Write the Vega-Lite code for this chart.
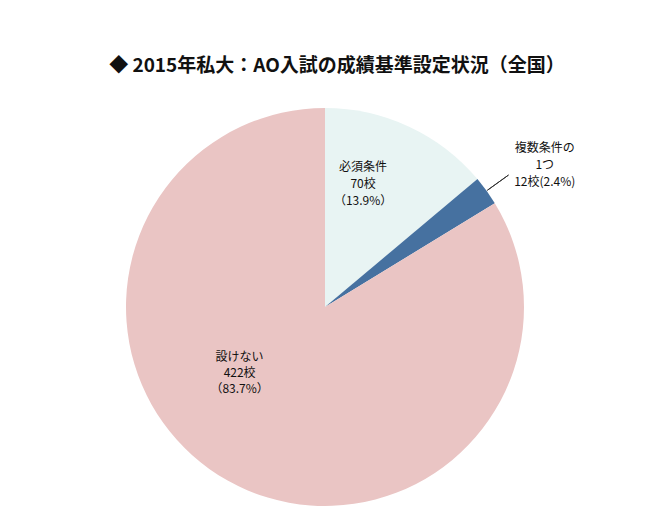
{
  "$schema": "https://vega.github.io/schema/vega-lite/v6.json",
  "width": 650,
  "height": 398,
  "autosize": "none",
  "padding": {"top": 108, "left": 0, "right": 0, "bottom": 24},
  "background": "white",
  "config": {"view": {"stroke": null}, "font": "Noto Sans CJK JP"},
  "title": {
    "text": "◆  2015年私大：AO入試の成績基準設定状況（全国）",
    "fontSize": 19,
    "fontWeight": "bold",
    "color": "#111111",
    "font": "Noto Sans CJK JP",
    "anchor": "middle",
    "frame": "group",
    "offset": -18,
    "dx": 12
  },
  "data": {
    "values": [
      {"label": "必須条件", "value": 70, "order": 1, "text": "必須条件\n70校\n（13.9%）"},
      {"label": "複数条件の1つ", "value": 12, "order": 2, "text": "複数条件の\n1つ\n12校(2.4%)"},
      {"label": "設けない", "value": 422, "order": 3, "text": "設けない\n422校\n（83.7%）"}
    ]
  },
  "encoding": {
    "theta": {"field": "value", "type": "quantitative", "stack": true},
    "order": {"field": "order", "type": "quantitative"}
  },
  "layer": [
    {
      "mark": {"type": "arc", "radius": 199},
      "encoding": {
        "color": {
          "field": "label",
          "type": "nominal",
          "scale": {
            "domain": ["必須条件", "複数条件の1つ", "設けない"],
            "range": ["#e8f4f3", "#4671a0", "#eac5c4"]
          },
          "legend": null
        }
      }
    },
    {
      "mark": {"type": "arc", "radius": 226, "radius2": 200, "padAngle": 0.6, "fill": null, "strokeWidth": 1},
      "encoding": {
        "stroke": {
          "condition": {"test": "datum.label === '複数条件の1つ'", "value": "#333333"},
          "value": null
        }
      }
    },
    {
      "mark": {"type": "text", "radius": 128, "dx": -16, "dy": -24, "fontSize": 12, "lineHeight": 17, "lineBreak": "\n", "baseline": "middle", "align": "center", "color": "#111111"},
      "encoding": {
        "text": {
          "condition": {"test": "datum.label === '必須条件'", "field": "text"},
          "value": ""
        }
      }
    },
    {
      "mark": {"type": "text", "radius": 262, "dx": 7, "dy": -6, "fontSize": 12, "lineHeight": 17, "lineBreak": "\n", "baseline": "middle", "align": "center", "color": "#111111"},
      "encoding": {
        "text": {
          "condition": {"test": "datum.label === '複数条件の1つ'", "field": "text"},
          "value": ""
        }
      }
    },
    {
      "mark": {"type": "text", "radius": 103, "dx": -35, "dy": -40, "fontSize": 12, "lineHeight": 16, "lineBreak": "\n", "baseline": "middle", "align": "center", "color": "#111111"},
      "encoding": {
        "text": {
          "condition": {"test": "datum.label === '設けない'", "field": "text"},
          "value": ""
        }
      }
    }
  ]
}
